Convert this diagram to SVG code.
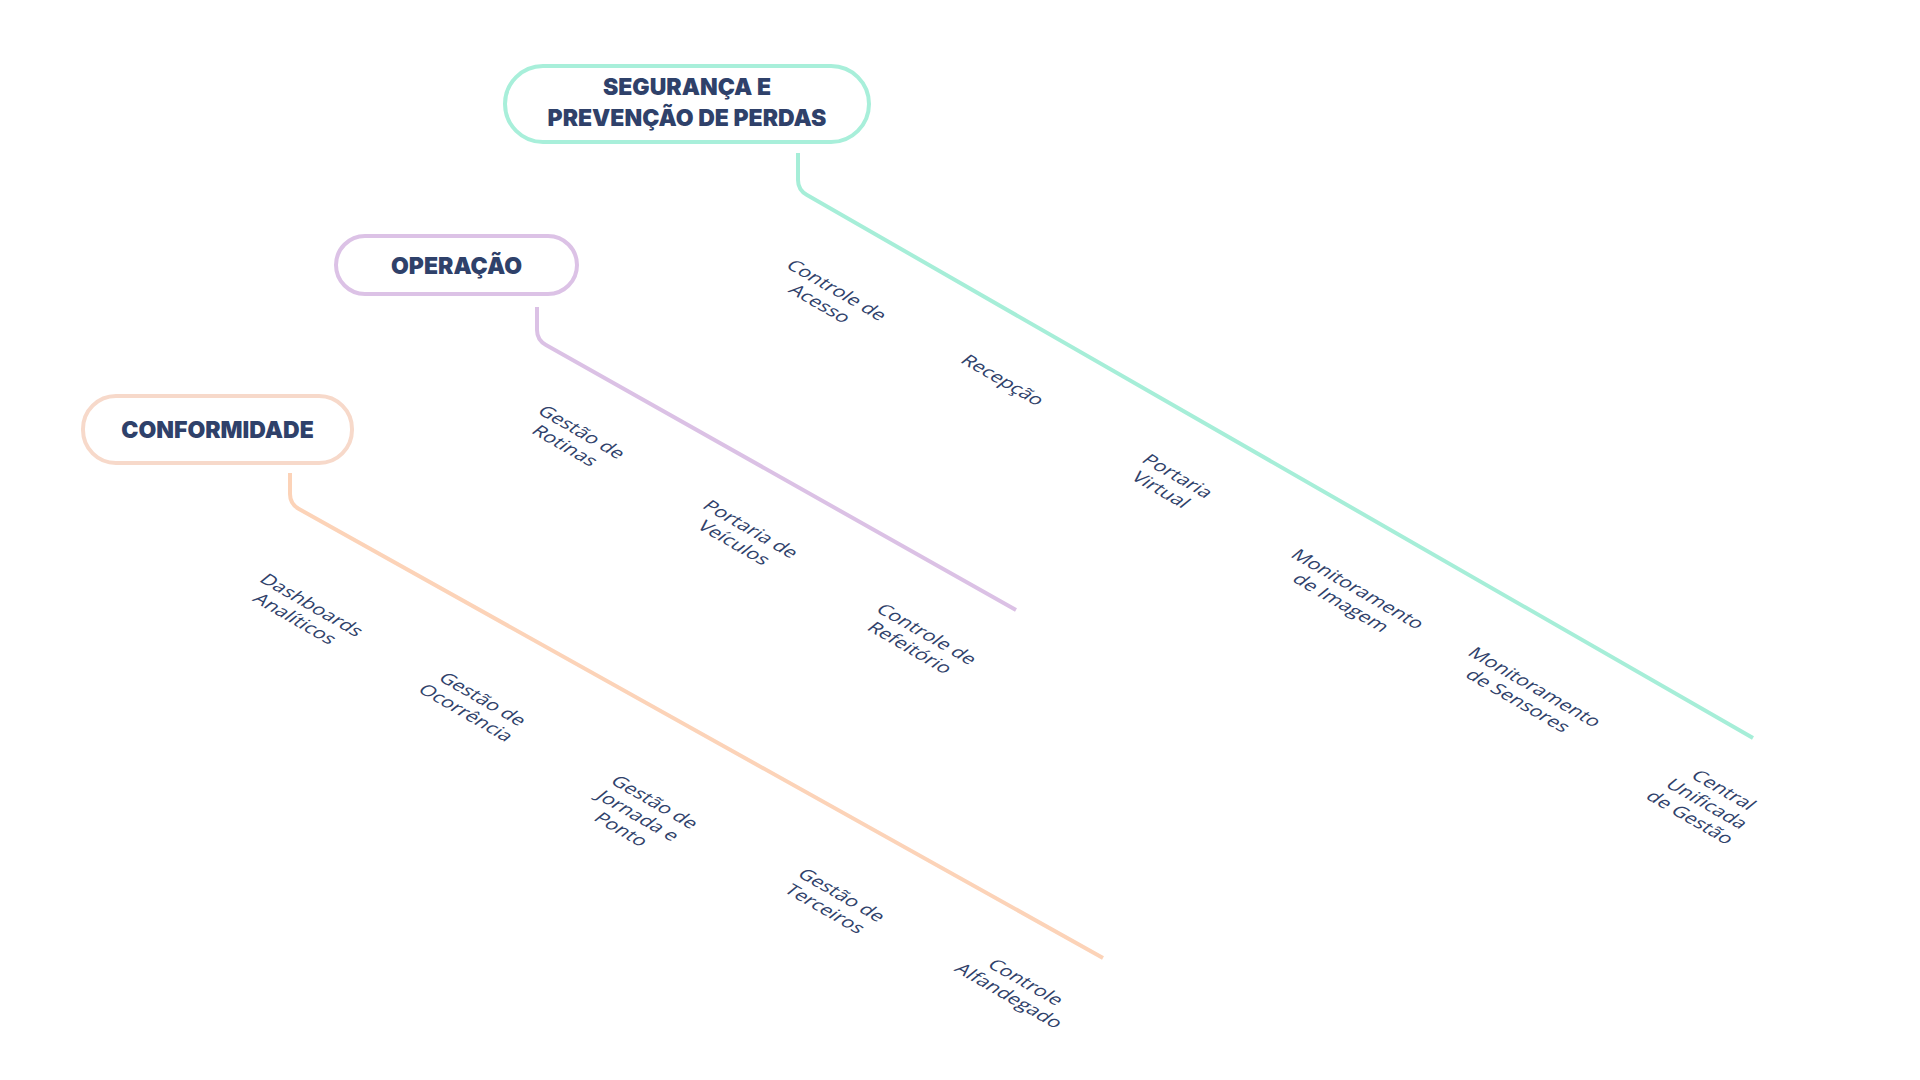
<svg xmlns="http://www.w3.org/2000/svg" width="1920" height="1080" viewBox="0 0 1920 1080">
<style>
.box{fill:#fff;stroke-width:4}
.title{font-family:Inter,"Liberation Sans",sans-serif;font-weight:900;font-size:23px;fill:#2f416a;text-anchor:middle}
.lbl{font-family:"Open Sans","Noto Sans",sans-serif;font-size:20px;fill:#2f416a;text-anchor:middle}
.con{fill:none;stroke-width:4}
</style>
<rect width="1920" height="1080" fill="#fff"/>
<g id="connectors">
<path class="con" stroke="#a6eed8" d="M798,153 V180 Q798,190 807,195 L1753,738"/>
<path class="con" stroke="#dbc1e5" d="M537,307 V330 Q537,340 546,345 L1016,610"/>
<path class="con" stroke="#fcd3b8" d="M290,473 V494 Q290,504 299,509 L1103,958"/>
</g>
<g id="seguranca">
<rect class="box" stroke="#a8efda" x="505" y="66" width="364" height="76" rx="38"/>
<text class="title" x="687" y="95">SEGURANÇA E</text>
<text class="title" x="687" y="125.5">PREVENÇÃO DE PERDAS</text>
</g>
<g id="operacao">
<rect class="box" stroke="#dcc2e6" x="336" y="236" width="241" height="58" rx="29"/>
<text class="title" x="456.5" y="274">OPERAÇÃO</text>
</g>
<g id="conformidade">
<rect class="box" stroke="#f7d9ca" x="83" y="396" width="269" height="67" rx="33"/>
<text class="title" x="217.5" y="438">CONFORMIDADE</text>
</g>
<g id="controle-acesso" transform="matrix(0.866 0.5 -0.7 0.57 832 294)"><text class="lbl"><tspan x="0" y="0">Controle de</tspan><tspan x="0" dy="24">Acesso</tspan></text></g>
<g id="recepcao" transform="matrix(0.866 0.5 -0.7 0.57 998 384)"><text class="lbl"><tspan x="0" y="0">Recepção</tspan></text></g>
<g id="portaria-virtual" transform="matrix(0.866 0.5 -0.7 0.57 1173 480)"><text class="lbl"><tspan x="0" y="0">Portaria</tspan><tspan x="0" dy="24">Virtual</tspan></text></g>
<g id="monitoramento-imagem" transform="matrix(0.866 0.5 -0.7 0.57 1353 593)"><text class="lbl"><tspan x="0" y="0">Monitoramento</tspan><tspan x="0" dy="24">de Imagem</tspan></text></g>
<g id="monitoramento-sensores" transform="matrix(0.866 0.5 -0.7 0.57 1530 691)"><text class="lbl"><tspan x="0" y="0">Monitoramento</tspan><tspan x="0" dy="24">de Sensores</tspan></text></g>
<g id="central-unificada" transform="matrix(0.866 0.5 -0.7 0.57 1719 794)"><text class="lbl"><tspan x="0" y="0">Central</tspan><tspan x="0" dy="24">Unificada</tspan><tspan x="0" dy="24">de Gestão</tspan></text></g>
<g id="gestao-rotinas" transform="matrix(0.866 0.5 -0.7 0.57 577 436)"><text class="lbl"><tspan x="0" y="0">Gestão de</tspan><tspan x="0" dy="24">Rotinas</tspan></text></g>
<g id="portaria-veiculos" transform="matrix(0.866 0.5 -0.7 0.57 746 533)"><text class="lbl"><tspan x="0" y="0">Portaria de</tspan><tspan x="0" dy="24">Veículos</tspan></text></g>
<g id="controle-refeitorio" transform="matrix(0.866 0.5 -0.7 0.57 922 638)"><text class="lbl"><tspan x="0" y="0">Controle de</tspan><tspan x="0" dy="24">Refeitório</tspan></text></g>
<g id="dashboards" transform="matrix(0.866 0.5 -0.7 0.57 307 609)"><text class="lbl"><tspan x="0" y="0">Dashboards</tspan><tspan x="0" dy="24">Analíticos</tspan></text></g>
<g id="gestao-ocorrencia" transform="matrix(0.866 0.5 -0.7 0.57 478 703)"><text class="lbl"><tspan x="0" y="0">Gestão de</tspan><tspan x="0" dy="24">Ocorrência</tspan></text></g>
<g id="gestao-jornada" transform="matrix(0.866 0.5 -0.7 0.57 650 806)"><text class="lbl"><tspan x="0" y="0">Gestão de</tspan><tspan x="0" dy="24">Jornada e</tspan><tspan x="0" dy="24">Ponto</tspan></text></g>
<g id="gestao-terceiros" transform="matrix(0.866 0.5 -0.7 0.57 837 899)"><text class="lbl"><tspan x="0" y="0">Gestão de</tspan><tspan x="0" dy="24">Terceiros</tspan></text></g>
<g id="controle-alfandegado" transform="matrix(0.866 0.5 -0.7 0.57 1021 986)"><text class="lbl"><tspan x="0" y="0">Controle</tspan><tspan x="0" dy="24">Alfandegado</tspan></text></g>
</svg>
